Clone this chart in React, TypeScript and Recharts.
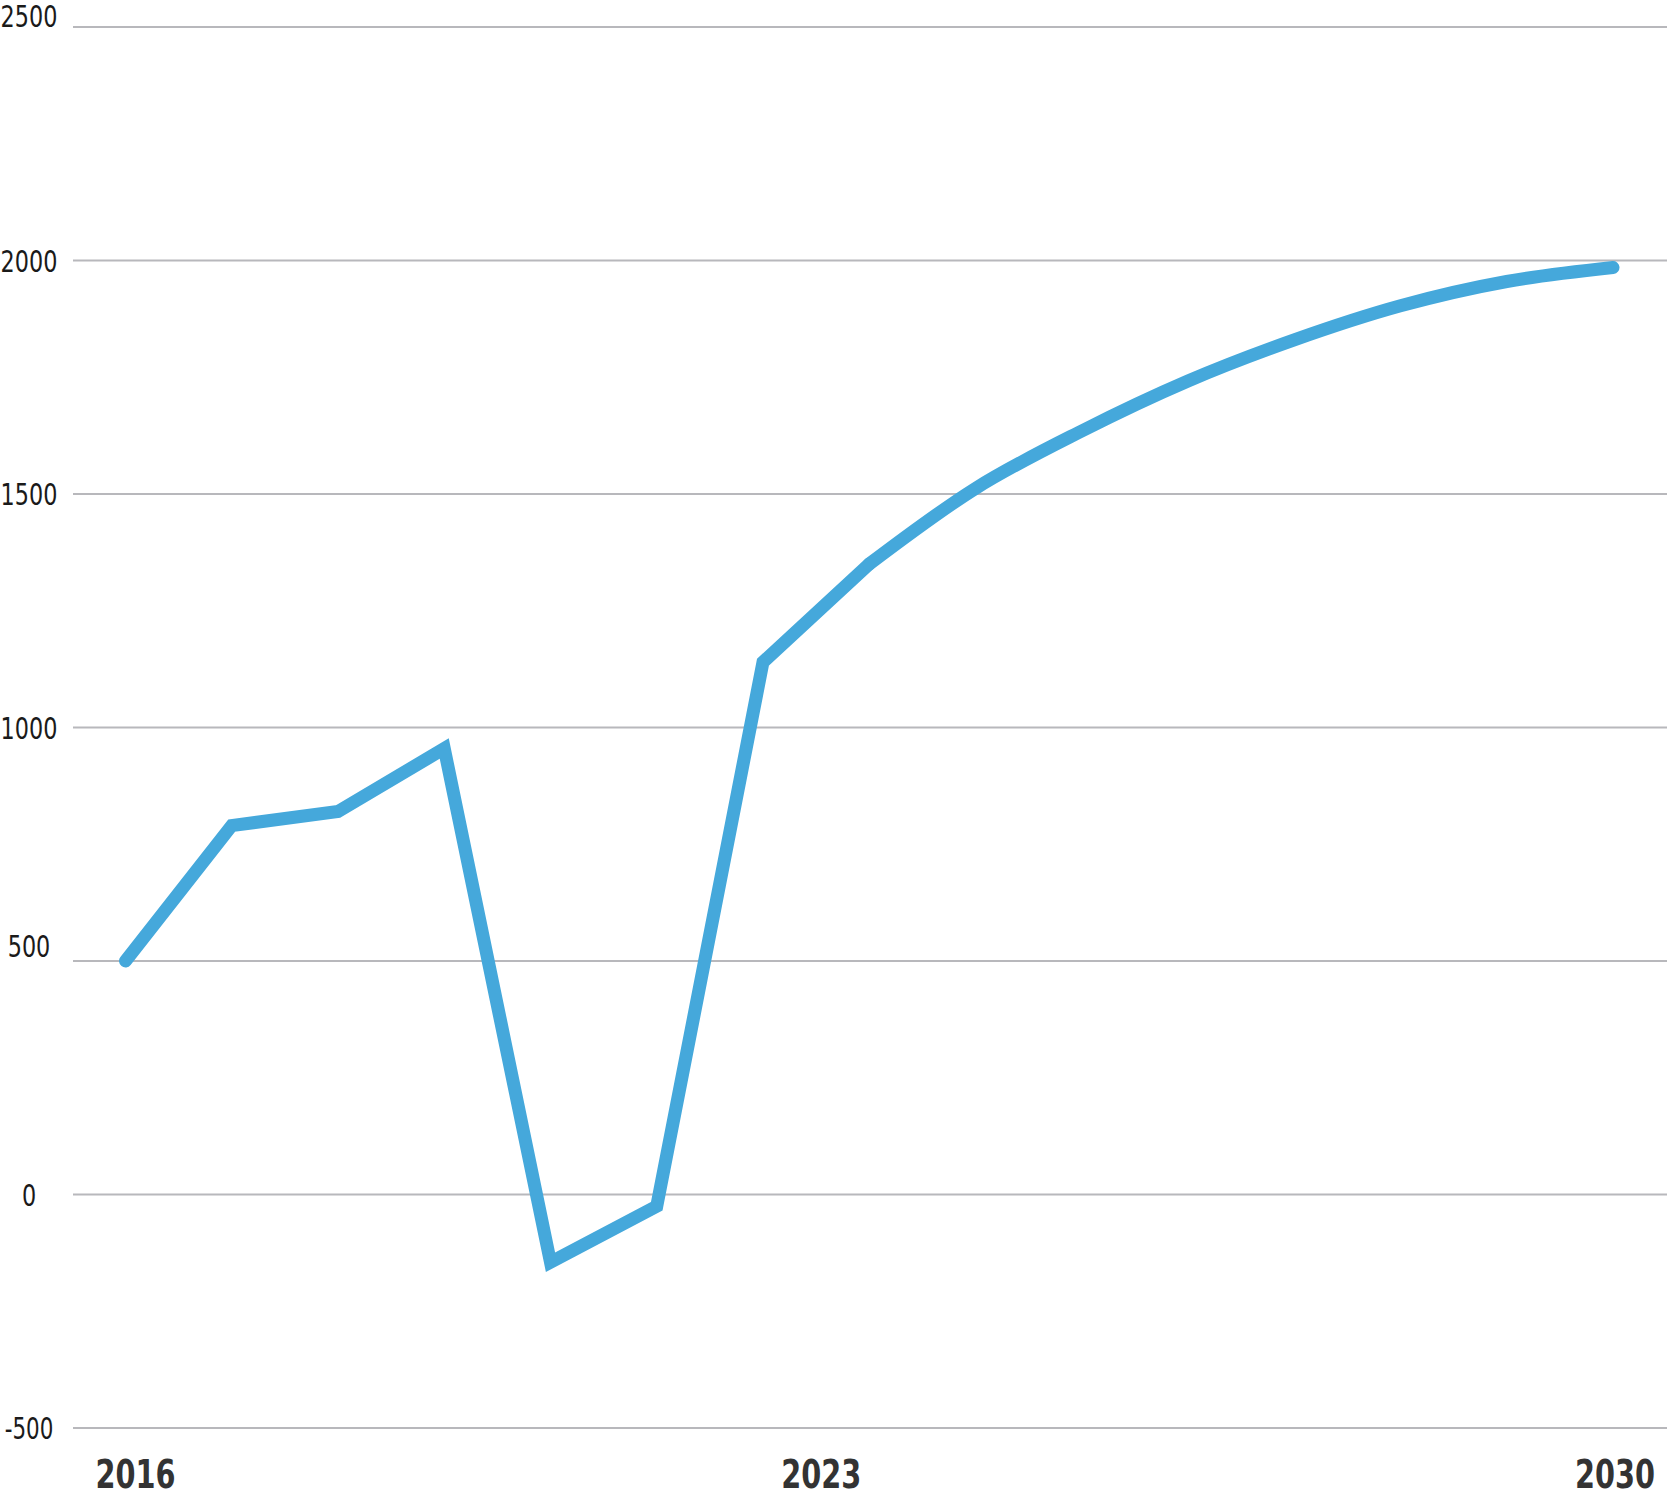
import React from 'react';
import { LineChart, Line, XAxis, YAxis, CartesianGrid } from 'recharts';

// history (sharp segments) and projection (smooth curve), joined at 2023
const historyYears = [2016, 2017, 2018, 2019, 2020, 2021, 2022, 2023];
const historyValues = [500, 790, 820, 955, -145, -25, 1140, 1350];
const projectionYears = [2023, 2024, 2025, 2026, 2027, 2028, 2029, 2030];
const projectionValues = [1350, 1512, 1635, 1742, 1830, 1903, 1955, 1985];

const xTicks = [2016, 2023, 2030];
const yTicks = [-500, 0, 500, 1000, 1500, 2000, 2500];

const historyData = historyYears.map((year, i) => ({ year, value: historyValues[i] }));
const projectionData = projectionYears.map((year, i) => ({ year, value: projectionValues[i] }));

const LINE_COLOR = '#45a8db';
const FONT = "'Liberation Sans Narrow', 'DejaVu Sans Condensed', 'Liberation Sans', sans-serif";

// no narrow font available, so squeeze the labels to the reference widths
function labelLength(s: string, digit: number, minus: number) {
  let w = 0;
  for (const c of s) w += c === '-' ? minus : digit;
  return w;
}

function YTick({ y, payload }: any) {
  const v = payload.value;
  const s = String(v);
  let dy = 11;
  if (v === 2500) dy = 0;
  if (v === 500) dy = -4;
  return (
    <text
      x={29}
      y={y + dy}
      textAnchor="middle"
      fontFamily={FONT}
      fontSize={30}
      fill="#1a1a1a"
      textLength={labelLength(s, 14.2, 6)}
      lengthAdjust="spacingAndGlyphs"
    >
      {s}
    </text>
  );
}

function XTick({ x, payload }: any) {
  const v = payload.value;
  let dx = 0;
  if (v === 2016) dx = 10;
  if (v === 2023) dx = -48;
  if (v === 2030) dx = 2;
  return (
    <g transform={`translate(${x + dx},1488) scale(0.82,1)`}>
      <text
        x={0}
        y={0}
        textAnchor="middle"
        fontFamily={FONT}
        fontWeight="bold"
        fontSize={39}
        fill="#333333"
      >
        {v}
      </text>
    </g>
  );
}

export default function App() {
  return (
    <div style={{ position: 'absolute', left: 0, top: 0, background: '#fff' }}>
      <LineChart width={1668} height={1509} margin={{ top: 27, right: 1, bottom: 0, left: 0 }}>
        <CartesianGrid vertical={false} stroke="#b8b8bc" strokeWidth={2} />
        <XAxis
          dataKey="year"
          type="number"
          domain={[2016, 2030]}
          ticks={xTicks}
          allowDuplicatedCategory={false}
          padding={{ left: 52.5, right: 54 }}
          axisLine={false}
          tickLine={false}
          height={81}
          tick={<XTick />}
          interval={0}
        />
        <YAxis
          domain={[-500, 2500]}
          ticks={yTicks}
          axisLine={false}
          tickLine={false}
          width={73}
          tick={<YTick />}
          interval={0}
        />
        <Line
          data={historyData}
          dataKey="value"
          type="linear"
          stroke={LINE_COLOR}
          strokeWidth={13}
          strokeLinecap="round"
          strokeLinejoin="miter"
          dot={false}
          activeDot={false}
          isAnimationActive={false}
        />
        <Line
          data={projectionData}
          dataKey="value"
          type="monotone"
          stroke={LINE_COLOR}
          strokeWidth={13}
          strokeLinecap="round"
          strokeLinejoin="miter"
          dot={false}
          activeDot={false}
          isAnimationActive={false}
        />
      </LineChart>
    </div>
  );
}
